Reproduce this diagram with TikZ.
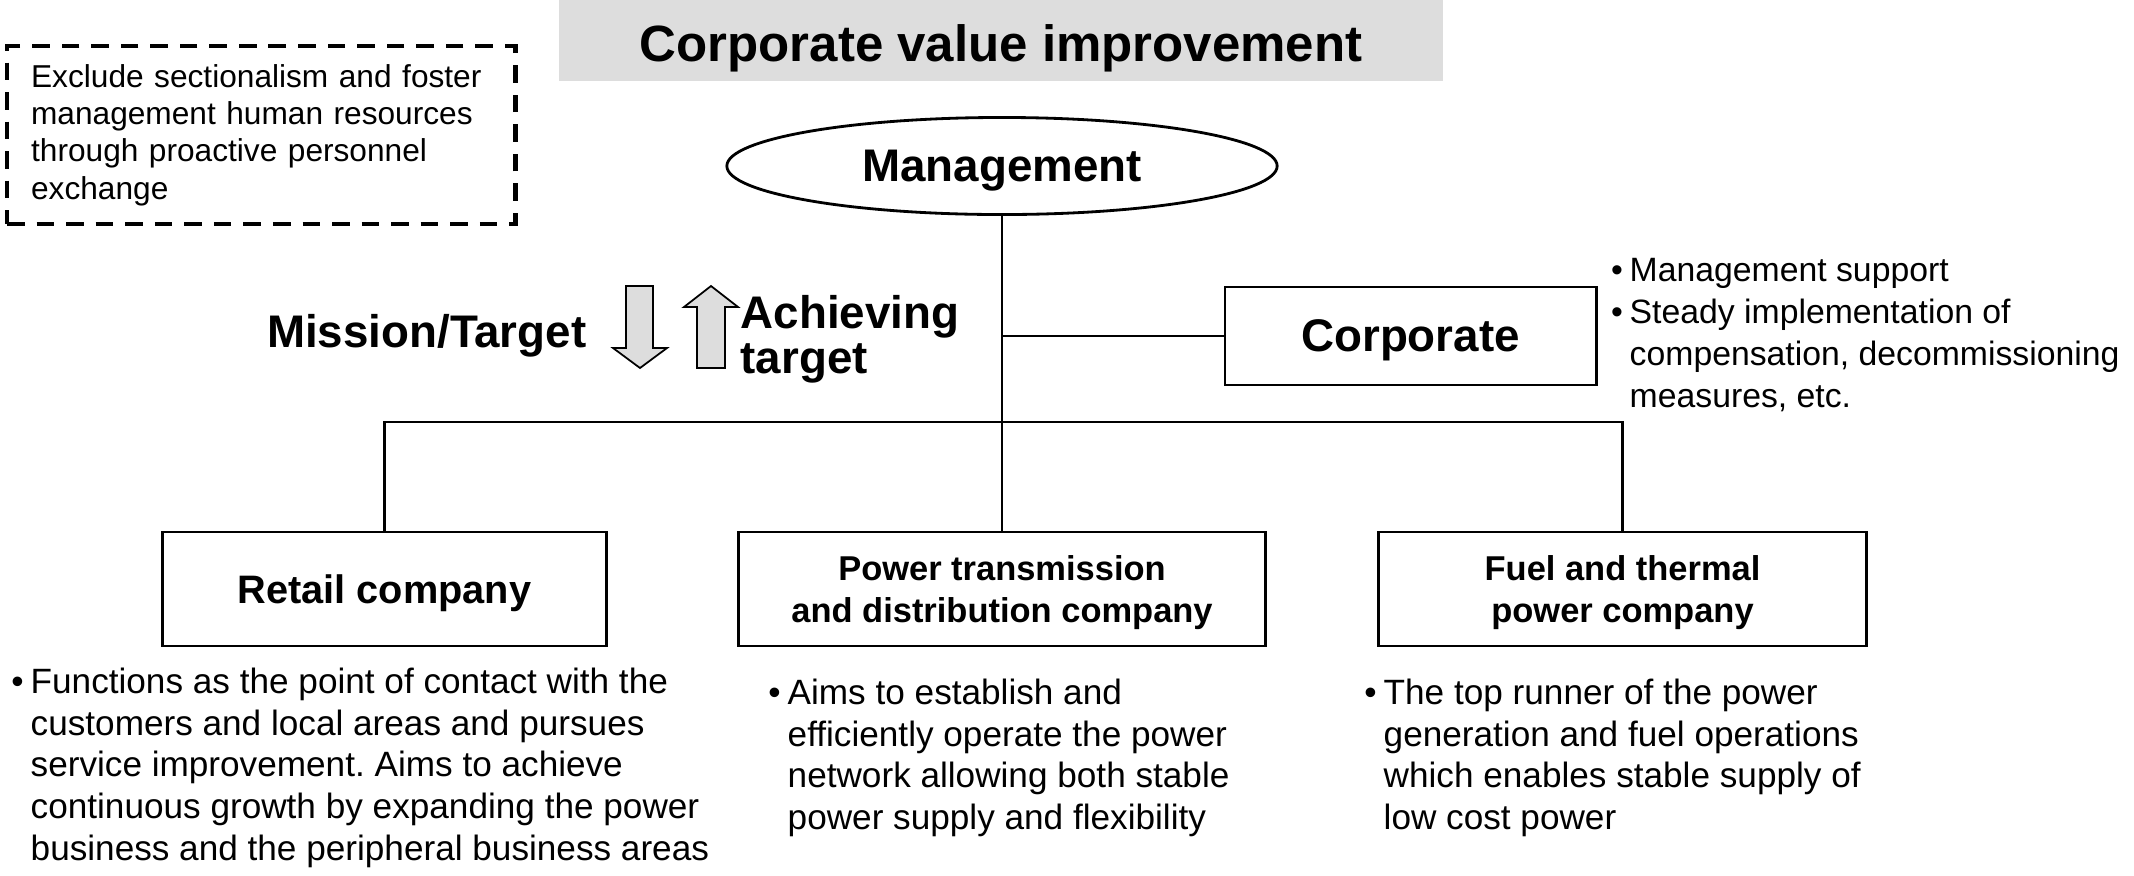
\documentclass[tikz,border=0pt]{standalone}
\usepackage{fontspec}
\setmainfont{Liberation Sans}
\usepackage{tikz}
\usetikzlibrary{shapes.geometric}

\definecolor{bandgray}{HTML}{DDDDDD}

\tikzset{
  unit/.style={draw, line width=0.8pt, inner sep=0pt, align=center, text depth=0pt},
  blurb/.style={inner sep=0pt, align=left, anchor=north west, font=\fontsize{10}{11.9}\selectfont},
  bigbold/.style={inner sep=0pt, font=\fontsize{13}{12.8}\selectfont\bfseries},
  fatarrow/.style={draw, line width=0.5pt, fill=bandgray, line join=miter},
}
\newcommand{\bul}{\llap{\textbullet\hspace{0.2em}}}
\frenchspacing

\begin{document}
\begin{tikzpicture}[x=0.01cm, y=-0.01cm]
\useasboundingbox (0,0) rectangle (2134,875);

% heading band
\fill[bandgray] (559,0) rectangle (1443,81);
\node[font=\fontsize{14.5}{17}\selectfont\bfseries, inner sep=0pt, anchor=base] (title) at (1001,61) {Corporate value improvement};

\node[draw, line width=1.2pt, dash pattern=on 5pt off 3.4pt, anchor=north west,
      minimum width=5.08cm, minimum height=1.78cm, text width=4.6cm, inner xsep=0.24cm,
      align=left, font=\fontsize{9}{10.6}\selectfont] (note) at (5,44)
  {Exclude sectionalism and foster\\ management human resources\\ through proactive personnel\\ exchange};

% tree
\node[ellipse, draw, line width=0.8pt, minimum width=5.5cm, minimum height=0.97cm, text depth=0pt, bigbold] (mgmt) at (1002,166) {Management};
\node[unit, minimum width=3.71cm, minimum height=0.98cm, font=\fontsize{13}{15}\selectfont\bfseries] (corp) at (1410.5,336) {Corporate};

\node[unit, minimum width=4.43cm, minimum height=1.14cm, font=\fontsize{11.3}{13}\selectfont\bfseries] (retail) at (384.5,589) {Retail company};
\node[unit, minimum width=5.27cm, minimum height=1.14cm, font=\fontsize{9.8}{12}\selectfont\bfseries] (grid) at (1002,589) {Power transmission\\ and distribution company};
\node[unit, minimum width=4.87cm, minimum height=1.14cm, font=\fontsize{9.8}{12}\selectfont\bfseries] (fuel) at (1622.5,589) {Fuel and thermal\\ power company};

\coordinate (hub) at (mgmt.south |- 0,422);
\draw[line width=0.8pt] (mgmt.south) -- (grid.north);
\draw[line width=0.8pt] (corp.west) -- (corp.west -| mgmt.south);
\draw[line width=0.8pt] (retail.north) |- (hub) -| (fuel.north);

% mission down, result up
\draw[fatarrow] (626,286) -- (653,286) -- (653,348) -- (667,348) -- (640,368) -- (613,348) -- (626,348) -- cycle;
\draw[fatarrow] (711,286) -- (738,307) -- (725,307) -- (725,368) -- (697,368) -- (697,307) -- (684,307) -- cycle;
\node[bigbold, anchor=base east] (mission) at (587,347) {Mission/Target};
\node[bigbold, anchor=west, align=left] (achieve) at (740,339) {Achieving\\ target};

% roles
\node[blurb, font=\fontsize{9.6}{11.9}\selectfont] (corpnote) at (1629,258) {\bul Management support\\ \bul Steady implementation of\\ compensation, decommissioning\\ measures, etc.};
\node[blurb] (retailnote) at (30,667) {\bul Functions as the point of contact with the\\ customers and local areas and pursues\\ service improvement. Aims to achieve\\ continuous growth by expanding the power\\ business and the peripheral business areas};
\node[blurb] (gridnote) at (787,678) {\bul Aims to establish and\\ efficiently operate the power\\ network allowing both stable\\ power supply and flexibility};
\node[blurb] (fuelnote) at (1383,678) {\bul The top runner of the power\\ generation and fuel operations\\ which enables stable supply of\\ low cost power};
\end{tikzpicture}
\end{document}
